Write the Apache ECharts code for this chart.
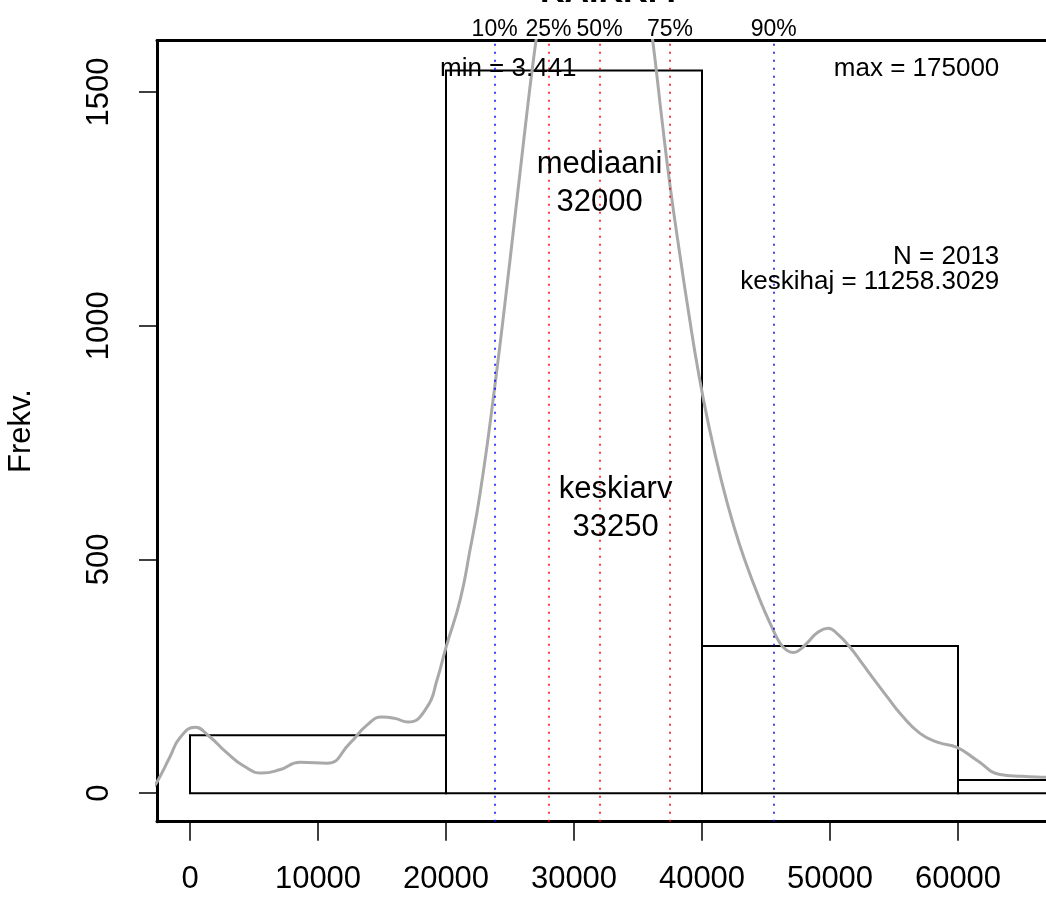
<!DOCTYPE html>
<html>
<head>
<meta charset="utf-8">
<script src="https://cdn.jsdelivr.net/npm/echarts@6/dist/echarts.min.js"></script>
<style>
  html, body { margin: 0; padding: 0; background: #fff; }
  #chart { width: 1046px; height: 897px; }
</style>
</head>
<body>
<div id="chart"></div>
<script>
// histogrammi + tiheyskäyrä
const binStart = [0, 20000, 40000, 60000];
const binEnd = [20000, 40000, 60000, 80000];
const binCount = [124, 1546, 315, 28];

const densityX = [-3000, -2555, -1563, -800, 391, 1406, 2891, 4200, 5625, 7000, 8594, 10703, 12500, 13800, 15000, 16000, 17031, 18516, 19297, 20000, 21100, 21875, 22656, 23672, 25000, 26172, 27031, 28000, 29000, 30000, 31000, 32000, 33000, 34000, 35000, 36148, 36852, 37500, 38281, 39000, 39688, 40500, 41500, 42500, 43340, 44531, 45547, 46094, 46600, 47109, 47600, 48203, 49000, 49844, 50600, 51563, 52500, 53359, 54500, 55500, 57031, 58500, 59922, 61500, 63281, 65000, 66875, 68000];
const densityY = [8, 25, 78, 118, 141, 124, 86, 58, 43, 50, 66, 64, 107, 145, 163, 160, 152, 184, 242, 312, 413, 520, 640, 840, 1140, 1420, 1610, 1790, 1940, 2040, 2100, 2110, 2070, 1980, 1840, 1610, 1445, 1300, 1150, 1020, 905, 790, 670, 570, 499, 413, 350, 321, 306, 301, 306, 321, 343, 353, 340, 312, 278, 246, 205, 170, 128, 108, 98, 70, 40, 36, 34, 33];

const quantileNames = ['10%', '25%', '50%', '75%', '90%'];
const quantileValues = [23800, 28000, 32000, 37500, 45600];

const xTicks = [0, 10000, 20000, 30000, 40000, 50000, 60000];
const yTicks = [0, 500, 1000, 1500];

const nObs = 2013;
const meanValue = 33250;
const medianValue = 32000;
const sdValue = '11258.3029';
const minValue = '3.441';
const maxValue = 175000;
const titleText = 'KAIKKI I';

const FONT = '"Liberation Sans", Arial, sans-serif';
const X_MIN = -2578, X_MAX = 66875, Y_MIN = -61, Y_MAX = 1610;

// tekstit (paikka datakoordinaateissa)
const notes = [
  { x: 19531, y: 1549, text: 'min = ' + minValue, align: 'left', size: 26, lh: 26 },
  { x: 63227, y: 1550, text: 'max = ' + maxValue, align: 'right', size: 26, lh: 26 },
  { x: medianValue, y: 1305, text: 'mediaani\n' + medianValue, align: 'center', size: 31, lh: 38 },
  { x: meanValue, y: 610, text: 'keskiarv\n' + meanValue, align: 'center', size: 31, lh: 38 },
  { x: 63227, y: 1121, text: 'N = ' + nObs + '\nkeskihaj = ' + sdValue, align: 'right', size: 26, lh: 25 }
];

const chart = echarts.init(document.getElementById('chart'), null, { renderer: 'canvas' });

const bins = binStart.map((s, i) => [s, binEnd[i], binCount[i]]);
const density = densityX.map((x, i) => [x, densityY[i]]);
const plain = v => String(v);

chart.setOption({
  animation: false,
  backgroundColor: '#fff',
  textStyle: { fontFamily: FONT, color: '#000' },
  graphic: [{
    type: 'text',
    style: {
      text: titleText, x: 608, y: -7,
      align: 'center', verticalAlign: 'middle',
      font: 'bold 34px ' + FONT, fill: '#000'
    }
  }],
  grid: { left: 157, right: 0, top: 40.5, bottom: 75.3, outerBoundsMode: 'none' },
  xAxis: [{
    type: 'value', min: X_MIN, max: X_MAX,
    axisLine: { show: true, onZero: false, lineStyle: { color: '#000', width: 3 } },
    axisTick: { show: true, length: 19, customValues: xTicks, lineStyle: { color: '#000', width: 1.5 } },
    axisLabel: { customValues: xTicks, formatter: plain, margin: 42, fontSize: 31, color: '#000', fontFamily: FONT },
    splitLine: { show: false }
  }, {
    type: 'value', position: 'top', min: X_MIN, max: X_MAX,
    axisLine: { show: true, onZero: false, lineStyle: { color: '#000', width: 3 } },
    axisTick: { show: false }, axisLabel: { show: false }, splitLine: { show: false }
  }],
  yAxis: {
    type: 'value', min: Y_MIN, max: Y_MAX,
    name: 'Frekv.', nameLocation: 'middle', nameGap: 120, nameRotate: 90,
    nameTextStyle: { fontSize: 31, color: '#000', fontFamily: FONT },
    axisLine: { show: true, onZero: false, lineStyle: { color: '#000', width: 3 } },
    axisTick: { show: true, length: 18, customValues: yTicks, lineStyle: { color: '#000', width: 1.5 } },
    axisLabel: { customValues: yTicks, formatter: plain, rotate: 90, margin: 42, fontSize: 31, color: '#000', fontFamily: FONT },
    splitLine: { show: false }
  },
  series: [
    {
      type: 'custom',
      clip: true,
      data: bins,
      renderItem: function (params, api) {
        const p0 = api.coord([api.value(0), 0]);
        const p1 = api.coord([api.value(1), api.value(2)]);
        return {
          type: 'rect',
          shape: { x: p0[0], y: p1[1], width: p1[0] - p0[0], height: p0[1] - p1[1] },
          style: { fill: 'none', stroke: '#000', lineWidth: 2 }
        };
      },
      z: 2
    },
    {
      type: 'line',
      data: density,
      showSymbol: false,
      smooth: 0.5,
      lineStyle: { color: '#A9A9A9', width: 3 },
      z: 4,
      markLine: {
        silent: true,
        symbol: ['none', 'none'],
        lineStyle: { type: [2, 6], width: 1.5 },
        label: { show: true, position: 'end', formatter: '{b}', color: '#000', fontSize: 23, fontFamily: FONT, distance: -1 },
        data: quantileValues.map((v, i) => ({
          name: quantileNames[i], xAxis: v,
          lineStyle: { color: (i === 0 || i === quantileValues.length - 1) ? '#0000FF' : '#FF0000' }
        }))
      }
    },
    {
      type: 'custom',
      data: notes.map((n, i) => [n.x, n.y, i]),
      renderItem: function (params, api) {
        const n = notes[params.dataIndex];
        const p = api.coord([api.value(0), api.value(1)]);
        return {
          type: 'text',
          style: {
            text: n.text, x: p[0], y: p[1],
            align: n.align, verticalAlign: 'middle',
            font: n.size + 'px ' + FONT, lineHeight: n.lh, fill: '#000'
          }
        };
      },
      z: 5
    }
  ]
});
</script>
</body>
</html>
